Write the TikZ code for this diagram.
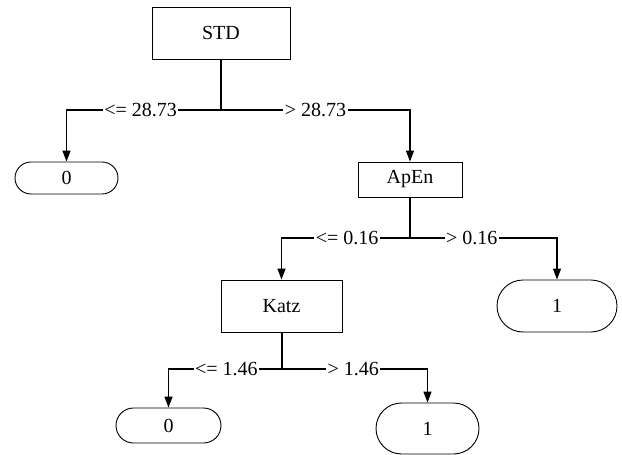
\documentclass[tikz,border=0pt]{standalone}
\usepackage{fontspec}
\setmainfont{Liberation Serif}
\usetikzlibrary{arrows.meta}

\tikzset{
  testbox/.style={draw, line width=0.9pt, inner sep=0pt, font=\fontsize{20}{23}\selectfont},
  leafbox/.style={draw, line width=0.9pt, inner sep=0pt, font=\fontsize{20}{23}\selectfont},
  cond/.style={fill=white, inner xsep=1.5pt, inner ysep=0pt, font=\fontsize{20}{23}\selectfont},
  branch/.style={line width=1.3pt},
  arr/.style={line width=1.3pt, -{Triangle[length=11pt,width=8pt]}}
}

\begin{document}
\begin{tikzpicture}[x=1pt, y=-1pt]
      \useasboundingbox (0,0) rectangle (622,455);
      \node [testbox, minimum width=138pt, minimum height=52pt] (std) at (221,33) {STD};
      \node [testbox, minimum width=104pt, minimum height=35pt] (apen) at (410,179.5) {ApEn};
      \node [testbox, minimum width=121pt, minimum height=52pt] (katz) at (281.5,306) {Katz};
      \node [leafbox, minimum width=103pt, minimum height=32pt, rounded corners=16pt] (leafa) at (66.5,178) {0};
      \node [leafbox, minimum width=120pt, minimum height=52pt, rounded corners=26pt] (leafb) at (557,306) {1};
      \node [leafbox, minimum width=105pt, minimum height=35pt, rounded corners=17.5pt] (leafc) at (168.5,425.5) {0};
      \node [leafbox, minimum width=103pt, minimum height=51pt, rounded corners=25.5pt] (leafd) at (427.5,428.5) {1};
      \coordinate (splitstd) at (221,110);
      \coordinate (splitapen) at (410,238);
      \coordinate (splitkatz) at (282,369);
      % STD
      \draw [branch] (std.south) -- (splitstd);
      \draw [arr] (splitstd) -- node [cond, pos=0.52] (lstd) {<= 28.73} (splitstd -| leafa) -- (leafa.north);
      \draw [arr] (splitstd) -- node [cond, pos=0.5] (rstd) {> 28.73} (splitstd -| apen) -- (apen.north);
      % ApEn
      \draw [branch] (apen.south) -- (splitapen);
      \draw [arr] (splitapen) -- node [cond, pos=0.49] (lapen) {<= 0.16} (splitapen -| katz) -- (katz.north);
      \draw [arr] (splitapen) -- node [cond, pos=0.42] (rapen) {> 0.16} (splitapen -| leafb) -- (leafb.north);
      % Katz
      \draw [branch] (katz.south -| splitkatz) -- (splitkatz);
      \draw [arr] (splitkatz) -- node [cond, pos=0.49] (lkatz) {<= 1.46} (splitkatz -| leafc) -- (leafc.north);
      \draw [arr] (splitkatz) -- node [cond, pos=0.49] (rkatz) {> 1.46} (splitkatz -| leafd) -- (leafd.north);
\end{tikzpicture}
\end{document}
